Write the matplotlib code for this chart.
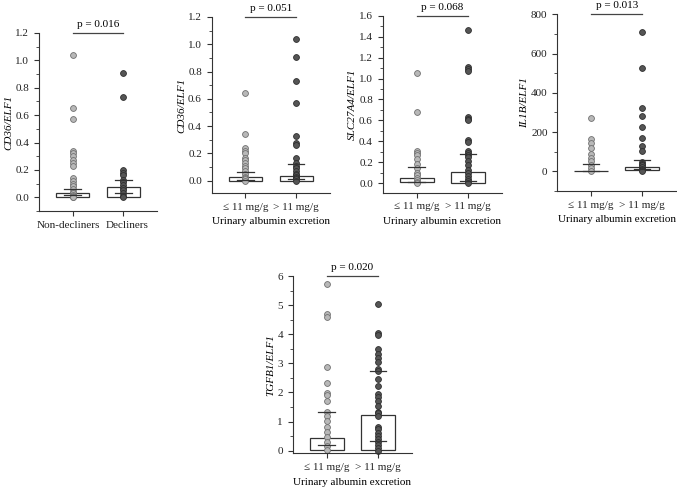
import matplotlib
matplotlib.use('Agg')
import matplotlib.pyplot as plt
from matplotlib.patches import Rectangle
from matplotlib.ticker import MultipleLocator, FormatStrFormatter
from matplotlib.transforms import ScaledTranslation

# ==========================================
# 1. DATA
# ==========================================
uae_groups = ['\u2264 11 mg/g', '> 11 mg/g']
decline_groups = ['Non-decliners', 'Decliners']

# CD36/ELF1 by eGFR decline
cd36_nondecl = [1.04, 0.65, 0.57, 0.34, 0.32, 0.30, 0.27, 0.25, 0.23, 0.14, 0.12, 0.10,
                0.08, 0.06, 0.04, 0.03, 0.02, 0.01, 0.005, 0.0]
cd36_decl = [0.91, 0.73, 0.20, 0.18, 0.16, 0.13, 0.11, 0.09, 0.07, 0.05, 0.03, 0.01, 0.0]

# CD36/ELF1 by urinary albumin excretion
cd36_low = [0.64, 0.34, 0.24, 0.22, 0.20, 0.17, 0.15, 0.13, 0.11, 0.09, 0.07, 0.05,
            0.03, 0.02, 0.01, 0.0]
cd36_high = [1.04, 0.91, 0.73, 0.57, 0.33, 0.28, 0.26, 0.17, 0.13, 0.11, 0.09, 0.07,
             0.05, 0.04, 0.03, 0.02, 0.01, 0.0]

# SLC27A4/ELF1
slc_low = [1.05, 0.68, 0.31, 0.29, 0.27, 0.23, 0.18, 0.15, 0.10, 0.08, 0.05, 0.03, 0.01, 0.0]
slc_high = [1.46, 1.11, 1.09, 1.07, 0.63, 0.61, 0.60, 0.41, 0.39, 0.31, 0.29, 0.27, 0.25,
            0.21, 0.17, 0.13, 0.10, 0.07, 0.04, 0.02, 0.0]

# IL1B/ELF1
il1b_low = [274, 166, 147, 119, 86, 69, 51, 34, 17, 0]
il1b_high = [708, 529, 325, 280, 226, 170, 131, 105, 50, 40, 30, 20, 10, 5, 0]

# TGFB1/ELF1
tgfb_low = [5.72, 4.68, 4.58, 2.86, 2.34, 1.99, 1.91, 1.72, 1.34, 1.19, 1.02, 0.83, 0.65,
            0.48, 0.31, 0.16, 0.02]
tgfb_high = [5.04, 4.03, 3.98, 3.50, 3.32, 3.20, 3.05, 2.80, 2.75, 2.47, 2.21, 1.95, 1.83,
             1.72, 1.55, 1.34, 1.28, 1.19, 0.83, 0.74, 0.62, 0.51, 0.40, 0.30, 0.20, 0.10, 0.0]

# box (bottom, top) and the two short lines (low, high) per group
cd36d_box = [(0.0, 0.03), (0.0, 0.075)]
cd36d_lines = [(0.015, 0.06), (0.03, 0.125)]
cd36u_box = [(0.0, 0.025), (0.0, 0.035)]
cd36u_lines = [(0.008, 0.062), (0.015, 0.122)]
slc_box = [(0.01, 0.05), (0.005, 0.11)]
slc_lines = [(0.015, 0.155), (0.025, 0.275)]
il1b_box = [(0.0, 1.0), (5.0, 22.0)]
il1b_lines = [(0.0, 40.0), (12.0, 56.0)]
tgfb_box = [(0.03, 0.42), (0.03, 1.24)]
tgfb_lines = [(0.2, 1.34), (0.32, 2.74)]

p_values = ['p = 0.016', 'p = 0.051', 'p = 0.068', 'p = 0.013', 'p = 0.020']

# ==========================================
# 2. PLOTTING
# ==========================================
plt.rcParams['font.family'] = ['Liberation Serif', 'DejaVu Serif']
plt.rcParams['font.size'] = 8

fig = plt.figure(figsize=(6.77, 4.88), dpi=100)

LIGHT = ('#b8b8b8', '#707070')
DARK = ('#555555', '#2e2e2e')
EDGE = '#333333'


def draw_panel(rect, groups, data, boxes, lines, ylabel, ylim, major, minor, ptext, xlabel=True):
    ax = fig.add_axes(rect)
    for i, (vals, (fc, ec)) in enumerate(zip(data, [LIGHT, DARK])):
        lo, hi = boxes[i]
        ax.add_patch(Rectangle((i - 0.33, lo), 0.66, hi - lo, facecolor='white',
                               edgecolor=EDGE, linewidth=0.9, zorder=1))
        ax.plot([i] * len(vals), vals, 'o', ms=4.2, mfc=fc, mec=ec, mew=0.6,
                linestyle='none', zorder=2, clip_on=False)
        for v in lines[i]:
            ax.plot([i - 0.16, i + 0.16], [v, v], color=EDGE, lw=0.9, zorder=3)

    ax.set_xlim(-0.66, 1.66)
    ax.set_ylim(*ylim)
    ax.set_xticks([0, 1])
    ax.set_xticklabels(groups)
    ax.yaxis.set_major_locator(MultipleLocator(major))
    ax.yaxis.set_minor_locator(MultipleLocator(minor))
    if major < 1:
        ax.yaxis.set_major_formatter(FormatStrFormatter('%.1f'))
    ax.spines['top'].set_visible(False)
    ax.spines['right'].set_visible(False)
    for s in ('left', 'bottom'):
        ax.spines[s].set_color(EDGE)
        ax.spines[s].set_linewidth(0.8)
    ax.tick_params(axis='both', colors=EDGE, labelcolor='#222222', width=0.8, length=3.5,
                   direction='out')
    ax.tick_params(axis='y', which='minor', width=0.6, length=2, colors=EDGE)
    ax.set_ylabel(ylabel, fontstyle='italic', labelpad=1.5)
    if xlabel:
        ax.set_xlabel('Urinary albumin excretion', labelpad=4)

    # significance bar on top
    top = ylim[1]
    ax.plot([0, 1], [top, top], color='#444444', lw=0.9, clip_on=False)
    ax.annotate(ptext, xy=(0.5, top), xytext=(0, 3), textcoords='offset points',
                ha='center', va='bottom')
    return ax


ax1 = draw_panel([0.0576, 0.5676, 0.1743, 0.3648], decline_groups, [cd36_nondecl, cd36_decl],
                 cd36d_box, cd36d_lines, 'CD36/ELF1', (-0.1, 1.2), 0.2, 0.1, p_values[0],
                 xlabel=False)
draw_panel([0.3127, 0.6045, 0.1747, 0.3607], uae_groups, [cd36_low, cd36_high],
           cd36u_box, cd36u_lines, 'CD36/ELF1', (-0.09, 1.2), 0.2, 0.1, p_values[1])
draw_panel([0.5653, 0.6051, 0.1762, 0.3627], uae_groups, [slc_low, slc_high],
           slc_box, slc_lines, 'SLC27A4/ELF1', (-0.09, 1.6), 0.2, 0.1, p_values[2])
draw_panel([0.8232, 0.6086, 0.1753, 0.3621], uae_groups, [il1b_low, il1b_high],
           il1b_box, il1b_lines, 'IL1B/ELF1', (-100, 800), 200, 100, p_values[3])
draw_panel([0.4323, 0.0711, 0.1762, 0.3633], uae_groups, [tgfb_low, tgfb_high],
           tgfb_box, tgfb_lines, 'TGFB1/ELF1', (-0.09, 6), 1, 0.5, p_values[4])

# nudge the decline-panel labels apart so they do not touch
labels1 = ax1.get_xticklabels()
labels1[0].set_transform(labels1[0].get_transform() + ScaledTranslation(-0.04, 0, fig.dpi_scale_trans))
labels1[1].set_transform(labels1[1].get_transform() + ScaledTranslation(0.04, 0, fig.dpi_scale_trans))

plt.savefig('out.png', dpi=100)
